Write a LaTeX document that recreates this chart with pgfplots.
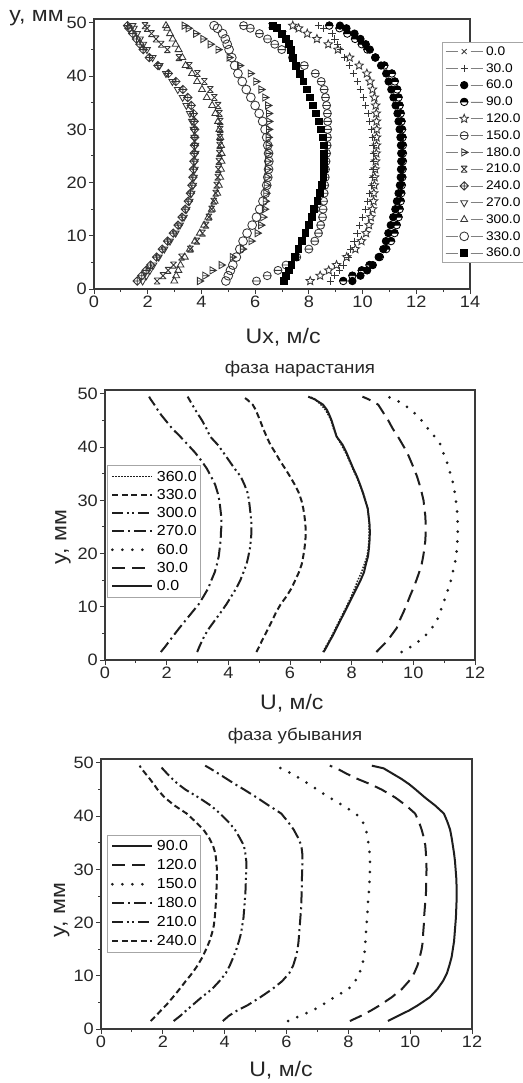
\documentclass[border=0pt]{standalone}
\usepackage{fontspec}
\setmainfont[FakeStretch=1.1]{Liberation Sans}
\usepackage{pgfplots}
\usepackage{pgfplotstable}
\pgfplotsset{compat=1.18}
\usetikzlibrary{plotmarks}

\definecolor{markgray}{HTML}{353535}
\definecolor{framegray}{HTML}{3A3A3A}
\definecolor{curve}{HTML}{1E1E1E}

% circle with a horizontal bar
\pgfdeclareplotmark{ominus}{%
  \pgfpathcircle{\pgfpointorigin}{\pgfplotmarksize}%
  \pgfpathmoveto{\pgfpoint{-\pgfplotmarksize}{0pt}}%
  \pgfpathlineto{\pgfpoint{\pgfplotmarksize}{0pt}}%
  \pgfusepathqstroke}
% right-pointing triangle with a bar
\pgfdeclareplotmark{tribar}{%
  \pgfpathmoveto{\pgfpoint{\pgfplotmarksize}{0pt}}%
  \pgfpathlineto{\pgfpoint{-0.6\pgfplotmarksize}{0.9\pgfplotmarksize}}%
  \pgfpathlineto{\pgfpoint{-0.6\pgfplotmarksize}{-0.9\pgfplotmarksize}}%
  \pgfpathclose
  \pgfpathmoveto{\pgfpoint{-0.6\pgfplotmarksize}{0pt}}%
  \pgfpathlineto{\pgfpoint{\pgfplotmarksize}{0pt}}%
  \pgfusepathqstroke}
% cross closed by bars at top and bottom
\pgfdeclareplotmark{xbar}{%
  \pgfpathmoveto{\pgfpoint{-0.8\pgfplotmarksize}{0.8\pgfplotmarksize}}%
  \pgfpathlineto{\pgfpoint{0.8\pgfplotmarksize}{-0.8\pgfplotmarksize}}%
  \pgfpathmoveto{\pgfpoint{-0.8\pgfplotmarksize}{-0.8\pgfplotmarksize}}%
  \pgfpathlineto{\pgfpoint{0.8\pgfplotmarksize}{0.8\pgfplotmarksize}}%
  \pgfpathmoveto{\pgfpoint{-0.8\pgfplotmarksize}{0.8\pgfplotmarksize}}%
  \pgfpathlineto{\pgfpoint{0.8\pgfplotmarksize}{0.8\pgfplotmarksize}}%
  \pgfpathmoveto{\pgfpoint{-0.8\pgfplotmarksize}{-0.8\pgfplotmarksize}}%
  \pgfpathlineto{\pgfpoint{0.8\pgfplotmarksize}{-0.8\pgfplotmarksize}}%
  \pgfusepathqstroke}
% diamond with a cross inside
\pgfdeclareplotmark{diamondplus}{%
  \pgfpathmoveto{\pgfpoint{0pt}{\pgfplotmarksize}}%
  \pgfpathlineto{\pgfpoint{\pgfplotmarksize}{0pt}}%
  \pgfpathlineto{\pgfpoint{0pt}{-\pgfplotmarksize}}%
  \pgfpathlineto{\pgfpoint{-\pgfplotmarksize}{0pt}}%
  \pgfpathclose
  \pgfpathmoveto{\pgfpoint{0pt}{\pgfplotmarksize}}%
  \pgfpathlineto{\pgfpoint{0pt}{-\pgfplotmarksize}}%
  \pgfpathmoveto{\pgfpoint{-\pgfplotmarksize}{0pt}}%
  \pgfpathlineto{\pgfpoint{\pgfplotmarksize}{0pt}}%
  \pgfusepathqstroke}
% circle with the upper half filled
\pgfdeclareplotmark{halfball}{%
  \pgfpathmoveto{\pgfpoint{\pgfplotmarksize}{0pt}}%
  \pgfpatharc{0}{180}{\pgfplotmarksize}%
  \pgfpathclose
  \pgfusepathqfillstroke
  \pgfpathcircle{\pgfpointorigin}{\pgfplotmarksize}%
  \pgfusepathqstroke}
% open five-pointed star
\pgfdeclareplotmark{openstar}{%
  \pgfpathmoveto{\pgfpointpolar{90}{\pgfplotmarksize}}%
  \pgfpathlineto{\pgfpointpolar{126}{0.45\pgfplotmarksize}}%
  \pgfpathlineto{\pgfpointpolar{162}{\pgfplotmarksize}}%
  \pgfpathlineto{\pgfpointpolar{198}{0.45\pgfplotmarksize}}%
  \pgfpathlineto{\pgfpointpolar{234}{\pgfplotmarksize}}%
  \pgfpathlineto{\pgfpointpolar{270}{0.45\pgfplotmarksize}}%
  \pgfpathlineto{\pgfpointpolar{306}{\pgfplotmarksize}}%
  \pgfpathlineto{\pgfpointpolar{342}{0.45\pgfplotmarksize}}%
  \pgfpathlineto{\pgfpointpolar{18}{\pgfplotmarksize}}%
  \pgfpathlineto{\pgfpointpolar{54}{0.45\pgfplotmarksize}}%
  \pgfpathclose
  \pgfusepathqstroke}

% velocity profiles U(y) for each phase angle (deg)
\pgfplotstableread{
y    p0   p30   p60   p90   p120  p150 p180 p210 p240 p270 p300 p330 p360
1.5  7.09 8.80  9.62  9.28  8.05  6.05 3.94 2.35 1.61 1.81 2.99 4.91 7.07
2.5  7.19 8.97  9.92  9.62  8.42  6.45 4.14 2.57 1.78 1.95 3.06 5.00 7.16
3.5  7.28 9.14  10.17 9.97  8.74  6.85 4.41 2.76 1.94 2.08 3.14 5.08 7.26
4.5  7.38 9.27  10.38 10.26 9.03  7.15 4.75 2.96 2.11 2.21 3.22 5.17 7.35
6    7.51 9.46  10.60 10.64 9.41  7.55 5.16 3.26 2.33 2.41 3.38 5.30 7.48
7.5  7.64 9.56  10.77 10.88 9.73  8.00 5.54 3.59 2.54 2.62 3.57 5.43 7.61
9    7.77 9.68  10.87 11.06 9.96  8.22 5.86 3.83 2.74 2.83 3.76 5.55 7.74
10.5 7.90 9.79  10.96 11.19 10.13 8.36 6.09 4.04 2.95 3.04 3.94 5.70 7.87
12   8.03 9.89  11.05 11.27 10.24 8.44 6.22 4.17 3.13 3.20 4.10 5.89 7.99
13.5 8.16 10.00 11.14 11.34 10.31 8.51 6.30 4.28 3.28 3.35 4.26 6.05 8.10
15   8.29 10.10 11.22 11.38 10.37 8.53 6.36 4.38 3.40 3.45 4.39 6.17 8.20
16.5 8.40 10.19 11.28 11.42 10.41 8.55 6.39 4.46 3.51 3.56 4.49 6.29 8.32
18   8.46 10.27 11.34 11.44 10.42 8.57 6.41 4.53 3.59 3.63 4.59 6.38 8.41
19.5 8.53 10.32 11.39 11.46 10.44 8.59 6.43 4.57 3.65 3.69 4.65 6.43 8.50
21   8.56 10.36 11.42 11.48 10.45 8.61 6.45 4.61 3.68 3.72 4.70 6.47 8.54
22.5 8.58 10.39 11.43 11.49 10.47 8.62 6.47 4.63 3.70 3.75 4.73 6.50 8.56
24   8.59 10.40 11.44 11.50 10.49 8.64 6.48 4.65 3.72 3.76 4.75 6.51 8.57
25.5 8.58 10.40 11.44 11.50 10.51 8.66 6.49 4.67 3.73 3.78 4.75 6.50 8.57
27   8.55 10.39 11.43 11.50 10.52 8.68 6.50 4.68 3.74 3.77 4.73 6.47 8.55
28.5 8.52 10.36 11.41 11.49 10.52 8.69 6.50 4.69 3.75 3.74 4.70 6.43 8.52
30   8.44 10.33 11.38 11.47 10.53 8.70 6.51 4.70 3.75 3.71 4.67 6.37 8.45
31.5 8.36 10.27 11.34 11.45 10.52 8.70 6.52 4.70 3.73 3.65 4.62 6.28 8.37
33   8.27 10.20 11.30 11.42 10.51 8.69 6.51 4.67 3.70 3.57 4.52 6.15 8.26
34.5 8.17 10.12 11.23 11.38 10.49 8.66 6.48 4.62 3.62 3.44 4.40 6.00 8.15
36   8.05 10.02 11.15 11.34 10.44 8.62 6.37 4.48 3.49 3.30 4.20 5.84 8.03
37.5 7.94 9.91  11.07 11.29 10.37 8.57 6.23 4.33 3.31 3.12 4.02 5.67 7.92
39   7.83 9.80  10.97 11.20 10.28 8.46 6.04 4.11 3.05 2.92 3.84 5.52 7.80
40.5 7.70 9.65  10.88 11.09 10.16 8.24 5.83 3.85 2.77 2.68 3.65 5.36 7.66
42   7.51 9.50  10.69 10.81 9.87  7.83 5.43 3.55 2.38 2.44 3.41 5.24 7.52
43.5 7.43 9.33  10.47 10.48 9.52  7.39 5.04 3.16 2.06 2.18 3.29 5.13 7.41
45   7.35 9.19  10.27 10.18 9.08  6.99 4.63 2.73 1.83 1.97 3.15 5.03 7.33
46   7.28 9.08  10.12 9.97  8.72  6.73 4.34 2.50 1.71 1.83 3.04 4.96 7.25
47   7.20 8.97  9.92  9.72  8.30  6.46 4.07 2.31 1.58 1.71 2.93 4.89 7.15
48   7.07 8.86  9.70  9.43  7.94  6.16 3.80 2.14 1.44 1.60 2.83 4.79 7.00
49   6.80 8.55  9.40  9.14  7.62  5.82 3.52 1.98 1.30 1.48 2.73 4.60 6.82
49.5 6.59 8.35  9.16  8.76  7.40  5.57 3.37 1.90 1.25 1.43 2.68 4.47 6.65
}\profiles

\pgfplotsset{
  profile axis/.style={
    scale only axis, height=270pt,
    ymin=0, ymax=50.75, ytick={0,10,...,50},
    minor x tick num=1, minor y tick num=1,
    tick align=outside, tick pos=left,
    major tick length=5pt, minor tick length=3pt,
    axis line style={framegray, line width=1.1pt},
    tick style={framegray, line width=1pt},
    tick label style={font=\fontsize{16.5}{16.5}\selectfont, text=black!85},
    /pgf/number format/assume math mode=true,
    xticklabel style={inner sep=2pt},
    yticklabel style={inner sep=2pt},
    label style={font=\fontsize{21}{21}\selectfont, text=black!85},
    title style={font=\fontsize{17}{17}\selectfont, text=black!85},
    legend cell align=left,
  },
  mk/.style={only marks, markgray, line width=0.85pt},
  ln/.style={curve, line width=2pt},
  dotln/.style={curve, line width=3pt, line cap=round, dash pattern=on 0pt off 10pt},
}

\begin{document}
\begin{tikzpicture}
\useasboundingbox (0pt,0pt) rectangle (522pt,-1083pt);

% ---- all phases, measured points ----
\begin{axis}[profile axis,
  at={(94pt,-289pt)}, anchor=south west, width=376pt,
  xmin=0, xmax=14, xtick={0,2,...,14},
  xlabel={Ux, м/с},
  xlabel style={at={(axis description cs:0.503,-0.178)}, anchor=center},
  ylabel={y, мм},
  ylabel style={at={(axis description cs:-0.153,0.99)}, anchor=base, rotate=-90},
  legend style={at={(axis description cs:0.9255,0.915)}, anchor=north west,
    draw=gray!70, line width=0.7pt, fill=white, inner sep=3pt,
    row sep=4.3pt, column sep=3pt,
    font=\fontsize{12.5}{12.5}\selectfont,
    nodes={inner sep=0pt, text height=10pt, text depth=2.5pt}},
  legend image code/.code={%
    \draw[mark=none, solid, gray, line width=0.7pt] (0pt,0pt) -- (12pt,0pt) (25pt,0pt) -- (37pt,0pt);
    \draw plot coordinates {(18.5pt,0pt)};},
]
\addplot[mk, mark=x, mark size=3.5pt] table[x=p0, y=y]{\profiles};
\addlegendentry{0.0}
\addplot[mk, mark=+, mark size=3.6pt] table[x=p30, y=y]{\profiles};
\addlegendentry{30.0}
\addplot[mk, black, mark=*, mark size=3.7pt, fill=black] table[x=p60, y=y]{\profiles};
\addlegendentry{60.0}
\addplot[mk, black, mark=halfball, mark size=3.7pt, fill=black] table[x=p90, y=y]{\profiles};
\addlegendentry{90.0}
\addplot[mk, mark=openstar, mark size=4.4pt] table[x=p120, y=y]{\profiles};
\addlegendentry{120.0}
\addplot[mk, mark=ominus, mark size=4pt] table[x=p150, y=y]{\profiles};
\addlegendentry{150.0}
\addplot[mk, mark=tribar, mark size=4pt] table[x=p180, y=y]{\profiles};
\addlegendentry{180.0}
\addplot[mk, mark=xbar, mark size=3.8pt] table[x=p210, y=y]{\profiles};
\addlegendentry{210.0}
\addplot[mk, mark=diamondplus, mark size=4.2pt] table[x=p240, y=y]{\profiles};
\addlegendentry{240.0}
\addplot[mk, mark=triangle, mark size=4pt, mark options={rotate=180}] table[x=p270, y=y]{\profiles};
\addlegendentry{270.0}
\addplot[mk, mark=triangle, mark size=4pt] table[x=p300, y=y]{\profiles};
\addlegendentry{300.0}
\addplot[mk, mark=o, mark size=4.4pt] table[x=p330, y=y]{\profiles};
\addlegendentry{330.0}
\addplot[mk, black, mark=square*, mark size=3.4pt, fill=black] table[x=p360, y=y]{\profiles};
\addlegendentry{360.0}
\end{axis}

% ---- rising phase ----
\begin{axis}[profile axis,
  at={(105pt,-660pt)}, anchor=south west, width=370pt,
  xmin=0, xmax=12, xtick={0,2,...,12},
  title={фаза нарастания},
  title style={at={(axis description cs:0.527,1.056)}, anchor=center},
  xlabel={U, м/с},
  xlabel style={at={(axis description cs:0.505,-0.159)}, anchor=center},
  ylabel={y, мм},
  ylabel style={at={(axis description cs:-0.1135,0.456)}, anchor=center},
  legend style={at={(axis description cs:0.0054,0.722)}, anchor=north west,
    draw=gray!70, line width=0.7pt, fill=white, inner sep=3.6pt,
    row sep=3.3pt, column sep=3pt,
    font=\fontsize{14.5}{14.5}\selectfont,
    nodes={inner sep=0pt, text height=12pt, text depth=3pt}},
  legend image code/.code={\draw[mark=none] (0pt,0pt) -- (40pt,0pt);},
]
\addplot[ln, line width=1.5pt, dash pattern=on 1.5pt off 1.5pt] table[x=p360, y=y]{\profiles};
\addlegendentry{360.0}
\addplot[ln, dash pattern=on 6pt off 3.5pt] table[x=p330, y=y]{\profiles};
\addlegendentry{330.0}
\addplot[ln, dash pattern=on 11pt off 3.5pt on 2pt off 3.5pt on 2pt off 3.5pt] table[x=p300, y=y]{\profiles};
\addlegendentry{300.0}
\addplot[ln, dash pattern=on 12pt off 4pt on 2pt off 4pt] table[x=p270, y=y]{\profiles};
\addlegendentry{270.0}
\addplot[dotln] table[x=p60, y=y]{\profiles};
\addlegendentry{60.0}
\addplot[ln, dash pattern=on 13pt off 7pt] table[x=p30, y=y]{\profiles};
\addlegendentry{30.0}
\addplot[ln, solid] table[x=p0, y=y]{\profiles};
\addlegendentry{0.0}
\end{axis}

% ---- falling phase ----
\begin{axis}[profile axis,
  at={(101pt,-1029pt)}, anchor=south west, width=371pt,
  xmin=0, xmax=12, xtick={0,2,...,12},
  title={фаза убывания},
  title style={at={(axis description cs:0.523,1.063)}, anchor=center},
  xlabel={U, м/с},
  xlabel style={at={(axis description cs:0.485,-0.152)}, anchor=center},
  ylabel={y, мм},
  ylabel style={at={(axis description cs:-0.106,0.44)}, anchor=center},
  legend style={at={(axis description cs:0.016,0.7185)}, anchor=north west,
    draw=gray!70, line width=0.7pt, fill=white, inner sep=3.6pt,
    row sep=3.9pt, column sep=3pt,
    font=\fontsize{14.5}{14.5}\selectfont,
    nodes={inner sep=0pt, text height=12pt, text depth=3pt}},
  legend image code/.code={\draw[mark=none] (0pt,0pt) -- (40pt,0pt);},
]
\addplot[ln, solid] table[x=p90, y=y]{\profiles};
\addlegendentry{90.0}
\addplot[ln, dash pattern=on 13pt off 7pt] table[x=p120, y=y]{\profiles};
\addlegendentry{120.0}
\addplot[dotln] table[x=p150, y=y]{\profiles};
\addlegendentry{150.0}
\addplot[ln, dash pattern=on 12pt off 4pt on 2pt off 4pt] table[x=p180, y=y]{\profiles};
\addlegendentry{180.0}
\addplot[ln, dash pattern=on 11pt off 3.5pt on 2pt off 3.5pt on 2pt off 3.5pt] table[x=p210, y=y]{\profiles};
\addlegendentry{210.0}
\addplot[ln, dash pattern=on 6pt off 3.5pt] table[x=p240, y=y]{\profiles};
\addlegendentry{240.0}
\end{axis}
\end{tikzpicture}
\end{document}
